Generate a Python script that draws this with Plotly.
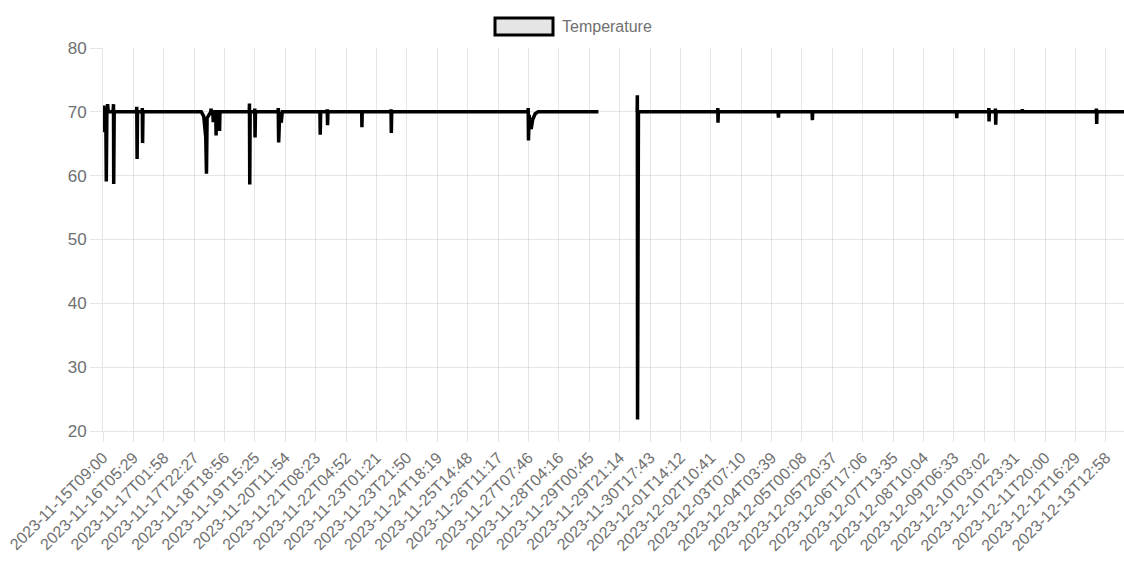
import plotly.graph_objects as go
import pandas as pd

# ---- data ----
times = [
    "2023-11-15 09:00", "2023-11-15 09:20", "2023-11-15 09:40", "2023-11-15 10:05",
    "2023-11-15 10:53", "2023-11-15 11:13", "2023-11-15 11:38", "2023-11-15 12:06",
    "2023-11-15 12:34", "2023-11-15 15:48", "2023-11-15 16:05", "2023-11-15 16:13",
    "2023-11-15 16:33", "2023-11-16 07:34", "2023-11-16 07:46", "2023-11-16 07:59",
    "2023-11-16 08:15", "2023-11-16 11:21", "2023-11-16 11:29", "2023-11-16 11:41",
    "2023-11-16 11:57",
    "2023-11-18 03:14", "2023-11-18 04:55", "2023-11-18 06:16", "2023-11-18 06:45",
    "2023-11-18 07:09", "2023-11-18 08:17", "2023-11-18 09:38", "2023-11-18 09:50",
    "2023-11-18 10:05", "2023-11-18 10:59", "2023-11-18 11:19", "2023-11-18 11:44",
    "2023-11-18 13:00", "2023-11-18 13:13", "2023-11-18 13:29", "2023-11-18 15:22",
    "2023-11-18 15:34", "2023-11-18 15:50",
    "2023-11-19 11:35", "2023-11-19 11:43", "2023-11-19 11:55", "2023-11-19 12:11",
    "2023-11-19 15:10", "2023-11-19 15:17", "2023-11-19 15:29", "2023-11-19 15:46",
    "2023-11-20 07:00", "2023-11-20 07:07", "2023-11-20 07:24", "2023-11-20 08:08",
    "2023-11-20 09:09", "2023-11-20 09:49",
    "2023-11-21 11:13", "2023-11-21 11:25", "2023-11-21 11:42", "2023-11-21 16:00",
    "2023-11-21 16:08", "2023-11-21 16:21", "2023-11-21 16:37",
    "2023-11-22 15:23", "2023-11-22 15:31", "2023-11-22 15:43",
    "2023-11-23 11:00", "2023-11-23 11:08", "2023-11-23 11:20", "2023-11-23 11:36",
    "2023-11-27 07:25", "2023-11-27 07:35", "2023-11-27 07:47", "2023-11-27 08:15",
    "2023-11-27 08:56", "2023-11-27 09:36", "2023-11-27 10:37", "2023-11-27 12:18",
    "2023-11-27 14:19",
    "2023-11-29 06:57", "2023-11-29 12:00",
    "2023-11-30 09:02", "2023-11-30 09:10", "2023-11-30 09:18", "2023-11-30 09:34",
    "2023-11-30 09:54",
    "2023-12-02 15:16", "2023-12-02 15:24", "2023-12-02 15:32", "2023-12-02 15:45",
    "2023-12-04 08:02", "2023-12-04 08:15", "2023-12-04 08:31",
    "2023-12-05 06:57", "2023-12-05 07:09", "2023-12-05 07:21",
    "2023-12-09 08:15", "2023-12-09 08:27", "2023-12-09 08:39",
    "2023-12-10 05:55", "2023-12-10 06:05", "2023-12-10 06:13", "2023-12-10 06:25",
    "2023-12-10 10:20", "2023-12-10 10:32", "2023-12-10 10:44", "2023-12-10 10:56",
    "2023-12-11 04:27", "2023-12-11 04:39", "2023-12-11 04:51",
    "2023-12-13 06:25", "2023-12-13 06:35", "2023-12-13 06:47", "2023-12-13 06:59",
    "2023-12-14 01:11",
]
temperature = [
    67.0, 71.0, 66.8, 70.5,
    69.8, 59.1, 70.5, 71.2,
    70.0, 70.0, 71.2, 58.7,
    70.0, 70.0, 70.8, 62.6,
    70.0, 70.0, 70.6, 65.1,
    70.0,
    70.0, 69.3, 66.0, 60.3,
    69.0, 69.6, 70.0, 70.5,
    70.0, 70.0, 68.4, 70.0,
    70.0, 66.3, 70.0, 70.0,
    67.0, 70.0,
    70.0, 71.3, 58.6, 70.0,
    70.0, 70.5, 66.0, 70.0,
    70.0, 70.6, 65.2, 70.0,
    68.3, 70.0,
    70.0, 66.4, 70.0, 70.0,
    70.4, 67.9, 70.0,
    70.0, 67.6, 70.0,
    70.0, 70.4, 66.7, 70.0,
    70.0, 70.6, 65.5, 69.5,
    68.0, 67.3, 68.8, 69.7,
    70.0,
    70.0, None,
    70.0, 72.6, 21.8, 67.4,
    70.0,
    70.0, 70.6, 68.3, 70.0,
    70.0, 69.1, 70.0,
    70.0, 68.7, 70.0,
    70.0, 69.0, 70.0,
    70.0, 70.6, 68.5, 70.0,
    70.0, 70.5, 68.0, 70.0,
    70.0, 70.4, 70.0,
    70.0, 70.5, 68.1, 70.0,
    70.0,
]
tick_labels = [
    "2023-11-15T09:00", "2023-11-16T05:29", "2023-11-17T01:58", "2023-11-17T22:27",
    "2023-11-18T18:56", "2023-11-19T15:25", "2023-11-20T11:54", "2023-11-21T08:23",
    "2023-11-22T04:52", "2023-11-23T01:21", "2023-11-23T21:50", "2023-11-24T18:19",
    "2023-11-25T14:48", "2023-11-26T11:17", "2023-11-27T07:46", "2023-11-28T04:16",
    "2023-11-29T00:45", "2023-11-29T21:14", "2023-11-30T17:43", "2023-12-01T14:12",
    "2023-12-02T10:41", "2023-12-03T07:10", "2023-12-04T03:39", "2023-12-05T00:08",
    "2023-12-05T20:37", "2023-12-06T17:06", "2023-12-07T13:35", "2023-12-08T10:04",
    "2023-12-09T06:33", "2023-12-10T03:02", "2023-12-10T23:31", "2023-12-11T20:00",
    "2023-12-12T16:29", "2023-12-13T12:58",
]
series_name = "Temperature"
x_start = "2023-11-15 09:00"
x_end = "2023-12-14 01:11"

tick_vals = [pd.Timestamp(t.replace("T", " ")) for t in tick_labels]

FONT = "Liberation Sans, Arial, Helvetica, sans-serif"
GRID = "rgba(0,0,0,0.1)"
TXT = "#707070"

fig = go.Figure()
fig.add_trace(go.Scatter(
    x=pd.to_datetime(times), y=temperature, mode="lines",
    name=series_name, line=dict(color="black", width=3.5),
    connectgaps=False, showlegend=False,
))

W, H = 1124, 563
plot_left, plot_top, plot_right, plot_bottom = 103, 48, 1124, 431  # page px
ml, mt = plot_left, plot_top
mr = W - plot_right
mb = H - plot_bottom
pw, ph = W - ml - mr, H - mt - mb

def px2paper_x(px):
    return (px - plot_left) / pw

def px2paper_y(py):
    return (plot_bottom - py) / ph

# legend box + text (Chart.js-style)
fig.add_shape(type="rect", xref="paper", yref="paper",
              x0=px2paper_x(495), x1=px2paper_x(553),
              y0=px2paper_y(35), y1=px2paper_y(18),
              fillcolor="rgba(0,0,0,0.1)", line=dict(color="black", width=3))
fig.add_annotation(xref="paper", yref="paper", x=px2paper_x(560), y=px2paper_y(26.5),
                   text=series_name, showarrow=False, xanchor="left", yanchor="middle",
                   font=dict(family=FONT, size=16, color=TXT))

fig.update_layout(
    width=W, height=H,
    margin=dict(l=ml, r=mr, t=mt, b=mb, pad=0, autoexpand=False),
    plot_bgcolor="white", paper_bgcolor="white",
    font=dict(family=FONT, size=15, color=TXT),
    showlegend=False,
    xaxis=dict(
        type="date", range=[x_start, x_end], automargin=False,
        tickmode="array", tickvals=tick_vals, ticktext=tick_labels,
        tickangle=-45, showgrid=True, gridcolor=GRID, gridwidth=1,
        ticks="outside", ticklen=10, tickcolor=GRID,
        showline=True, linecolor=GRID, linewidth=1,
        zeroline=False, tickfont=dict(size=16, color=TXT),
    ),
    yaxis=dict(
        range=[20, 80], tickmode="array", tickvals=[20, 30, 40, 50, 60, 70, 80],
        automargin=False,
        showgrid=True, gridcolor=GRID, gridwidth=1,
        ticks="outside", ticklen=12, tickcolor=GRID,
        showline=True, linecolor=GRID, linewidth=1,
        zeroline=False, tickfont=dict(size=17, color=TXT),
    ),
)

fig.write_html(
    "out.html",
    config={"displayModeBar": False},
    post_script="document.body.style.margin='0';document.body.style.overflow='hidden';",
)
